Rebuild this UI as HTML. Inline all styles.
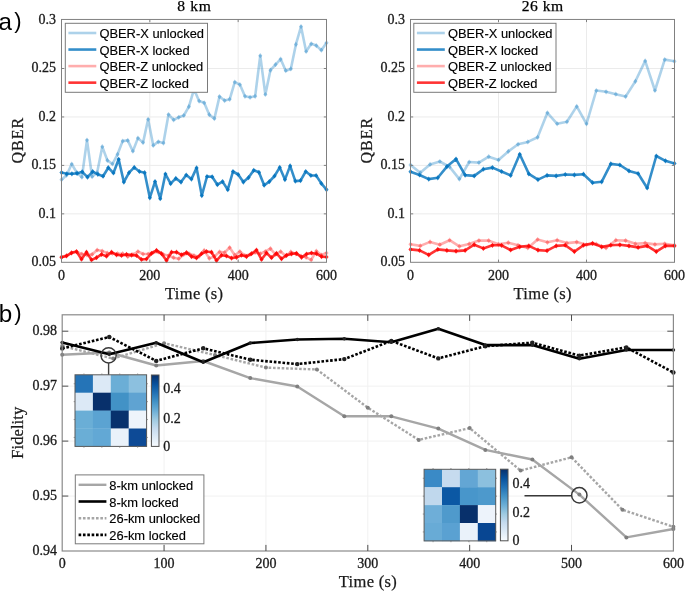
<!DOCTYPE html><html><head><meta charset="utf-8"><style>html,body{margin:0;padding:0;background:#fff;width:685px;height:591px;overflow:hidden}svg{display:block;will-change:transform}</style></head><body>
<svg width="685" height="591" viewBox="0 0 685 591">
<rect width="685" height="591" fill="#fff"/>
<path d="M61.5 213.85H326.5M61.5 165.40H326.5M61.5 116.95H326.5M61.5 68.50H326.5M149.83 19.4V262.3M238.17 19.4V262.3" stroke="#ebebeb" stroke-width="1" fill="none"/>
<polyline points="61.50,257.00 66.60,255.50 71.69,253.00 76.79,252.00 81.88,254.00 86.98,255.00 92.08,254.40 97.17,250.00 102.27,251.10 107.37,253.00 112.46,253.30 117.56,253.70 122.65,253.70 127.75,256.60 132.85,254.50 137.94,251.50 143.04,254.00 148.13,254.00 153.23,252.50 158.33,252.00 163.42,254.50 168.52,255.50 173.62,257.70 178.71,258.80 183.81,254.50 188.90,253.50 194.00,255.50 199.10,256.50 204.19,250.40 209.29,258.40 214.38,256.50 219.48,251.90 224.58,252.60 229.67,247.50 234.77,255.20 239.87,251.50 244.96,255.50 250.06,254.50 255.15,252.50 260.25,253.70 265.35,251.50 270.44,248.60 275.54,254.50 280.63,251.50 285.73,256.00 290.83,251.90 295.92,254.00 301.02,256.00 306.12,257.30 311.21,259.90 316.31,251.10 321.40,255.00 326.50,253.00" fill="none" stroke="#ff0000" stroke-opacity="0.32" stroke-width="2.6" stroke-linejoin="round"/>
<path d="M61.50 254.40L63.58 257.00L61.50 259.60L59.42 257.00ZM66.60 252.90L68.68 255.50L66.60 258.10L64.52 255.50ZM71.69 250.40L73.77 253.00L71.69 255.60L69.61 253.00ZM76.79 249.40L78.87 252.00L76.79 254.60L74.71 252.00ZM81.88 251.40L83.96 254.00L81.88 256.60L79.80 254.00ZM86.98 252.40L89.06 255.00L86.98 257.60L84.90 255.00ZM92.08 251.80L94.16 254.40L92.08 257.00L90.00 254.40ZM97.17 247.40L99.25 250.00L97.17 252.60L95.09 250.00ZM102.27 248.50L104.35 251.10L102.27 253.70L100.19 251.10ZM107.37 250.40L109.45 253.00L107.37 255.60L105.29 253.00ZM112.46 250.70L114.54 253.30L112.46 255.90L110.38 253.30ZM117.56 251.10L119.64 253.70L117.56 256.30L115.48 253.70ZM122.65 251.10L124.73 253.70L122.65 256.30L120.57 253.70ZM127.75 254.00L129.83 256.60L127.75 259.20L125.67 256.60ZM132.85 251.90L134.93 254.50L132.85 257.10L130.77 254.50ZM137.94 248.90L140.02 251.50L137.94 254.10L135.86 251.50ZM143.04 251.40L145.12 254.00L143.04 256.60L140.96 254.00ZM148.13 251.40L150.21 254.00L148.13 256.60L146.05 254.00ZM153.23 249.90L155.31 252.50L153.23 255.10L151.15 252.50ZM158.33 249.40L160.41 252.00L158.33 254.60L156.25 252.00ZM163.42 251.90L165.50 254.50L163.42 257.10L161.34 254.50ZM168.52 252.90L170.60 255.50L168.52 258.10L166.44 255.50ZM173.62 255.10L175.70 257.70L173.62 260.30L171.54 257.70ZM178.71 256.20L180.79 258.80L178.71 261.40L176.63 258.80ZM183.81 251.90L185.89 254.50L183.81 257.10L181.73 254.50ZM188.90 250.90L190.98 253.50L188.90 256.10L186.82 253.50ZM194.00 252.90L196.08 255.50L194.00 258.10L191.92 255.50ZM199.10 253.90L201.18 256.50L199.10 259.10L197.02 256.50ZM204.19 247.80L206.27 250.40L204.19 253.00L202.11 250.40ZM209.29 255.80L211.37 258.40L209.29 261.00L207.21 258.40ZM214.38 253.90L216.46 256.50L214.38 259.10L212.30 256.50ZM219.48 249.30L221.56 251.90L219.48 254.50L217.40 251.90ZM224.58 250.00L226.66 252.60L224.58 255.20L222.50 252.60ZM229.67 244.90L231.75 247.50L229.67 250.10L227.59 247.50ZM234.77 252.60L236.85 255.20L234.77 257.80L232.69 255.20ZM239.87 248.90L241.95 251.50L239.87 254.10L237.79 251.50ZM244.96 252.90L247.04 255.50L244.96 258.10L242.88 255.50ZM250.06 251.90L252.14 254.50L250.06 257.10L247.98 254.50ZM255.15 249.90L257.23 252.50L255.15 255.10L253.07 252.50ZM260.25 251.10L262.33 253.70L260.25 256.30L258.17 253.70ZM265.35 248.90L267.43 251.50L265.35 254.10L263.27 251.50ZM270.44 246.00L272.52 248.60L270.44 251.20L268.36 248.60ZM275.54 251.90L277.62 254.50L275.54 257.10L273.46 254.50ZM280.63 248.90L282.71 251.50L280.63 254.10L278.55 251.50ZM285.73 253.40L287.81 256.00L285.73 258.60L283.65 256.00ZM290.83 249.30L292.91 251.90L290.83 254.50L288.75 251.90ZM295.92 251.40L298.00 254.00L295.92 256.60L293.84 254.00ZM301.02 253.40L303.10 256.00L301.02 258.60L298.94 256.00ZM306.12 254.70L308.20 257.30L306.12 259.90L304.04 257.30ZM311.21 257.30L313.29 259.90L311.21 262.50L309.13 259.90ZM316.31 248.50L318.39 251.10L316.31 253.70L314.23 251.10ZM321.40 252.40L323.48 255.00L321.40 257.60L319.32 255.00ZM326.50 250.40L328.58 253.00L326.50 255.60L324.42 253.00Z" fill="#ff0000" fill-opacity="0.32"/>
<polyline points="61.50,257.30 66.50,256.00 71.50,252.80 76.50,251.50 81.50,259.20 86.50,252.20 91.50,259.90 96.50,257.70 101.50,254.40 106.50,256.20 111.50,252.20 116.50,254.80 121.50,255.50 126.50,254.40 131.50,255.10 136.50,255.50 141.50,259.50 146.50,259.00 151.50,253.40 156.50,250.40 161.50,253.70 166.50,260.60 171.50,252.20 176.50,252.20 181.50,254.80 186.50,252.60 191.50,256.60 196.50,258.00 201.50,253.70 206.50,251.50 211.50,252.20 216.50,260.60 221.50,255.20 226.50,255.90 231.50,258.10 236.50,257.30 241.50,255.20 246.50,256.60 251.50,253.70 256.50,250.00 261.50,259.50 266.50,253.00 271.50,257.70 276.50,253.30 281.50,258.80 286.50,255.30 291.50,253.90 296.50,253.30 301.50,257.30 306.50,254.10 311.50,253.00 316.50,253.70 321.50,256.60 326.50,257.00" fill="none" stroke="#ff0000" stroke-opacity="0.8" stroke-width="2.6" stroke-linejoin="round"/>
<path d="M61.50 254.70L63.58 257.30L61.50 259.90L59.42 257.30ZM66.50 253.40L68.58 256.00L66.50 258.60L64.42 256.00ZM71.50 250.20L73.58 252.80L71.50 255.40L69.42 252.80ZM76.50 248.90L78.58 251.50L76.50 254.10L74.42 251.50ZM81.50 256.60L83.58 259.20L81.50 261.80L79.42 259.20ZM86.50 249.60L88.58 252.20L86.50 254.80L84.42 252.20ZM91.50 257.30L93.58 259.90L91.50 262.50L89.42 259.90ZM96.50 255.10L98.58 257.70L96.50 260.30L94.42 257.70ZM101.50 251.80L103.58 254.40L101.50 257.00L99.42 254.40ZM106.50 253.60L108.58 256.20L106.50 258.80L104.42 256.20ZM111.50 249.60L113.58 252.20L111.50 254.80L109.42 252.20ZM116.50 252.20L118.58 254.80L116.50 257.40L114.42 254.80ZM121.50 252.90L123.58 255.50L121.50 258.10L119.42 255.50ZM126.50 251.80L128.58 254.40L126.50 257.00L124.42 254.40ZM131.50 252.50L133.58 255.10L131.50 257.70L129.42 255.10ZM136.50 252.90L138.58 255.50L136.50 258.10L134.42 255.50ZM141.50 256.90L143.58 259.50L141.50 262.10L139.42 259.50ZM146.50 256.40L148.58 259.00L146.50 261.60L144.42 259.00ZM151.50 250.80L153.58 253.40L151.50 256.00L149.42 253.40ZM156.50 247.80L158.58 250.40L156.50 253.00L154.42 250.40ZM161.50 251.10L163.58 253.70L161.50 256.30L159.42 253.70ZM166.50 258.00L168.58 260.60L166.50 263.20L164.42 260.60ZM171.50 249.60L173.58 252.20L171.50 254.80L169.42 252.20ZM176.50 249.60L178.58 252.20L176.50 254.80L174.42 252.20ZM181.50 252.20L183.58 254.80L181.50 257.40L179.42 254.80ZM186.50 250.00L188.58 252.60L186.50 255.20L184.42 252.60ZM191.50 254.00L193.58 256.60L191.50 259.20L189.42 256.60ZM196.50 255.40L198.58 258.00L196.50 260.60L194.42 258.00ZM201.50 251.10L203.58 253.70L201.50 256.30L199.42 253.70ZM206.50 248.90L208.58 251.50L206.50 254.10L204.42 251.50ZM211.50 249.60L213.58 252.20L211.50 254.80L209.42 252.20ZM216.50 258.00L218.58 260.60L216.50 263.20L214.42 260.60ZM221.50 252.60L223.58 255.20L221.50 257.80L219.42 255.20ZM226.50 253.30L228.58 255.90L226.50 258.50L224.42 255.90ZM231.50 255.50L233.58 258.10L231.50 260.70L229.42 258.10ZM236.50 254.70L238.58 257.30L236.50 259.90L234.42 257.30ZM241.50 252.60L243.58 255.20L241.50 257.80L239.42 255.20ZM246.50 254.00L248.58 256.60L246.50 259.20L244.42 256.60ZM251.50 251.10L253.58 253.70L251.50 256.30L249.42 253.70ZM256.50 247.40L258.58 250.00L256.50 252.60L254.42 250.00ZM261.50 256.90L263.58 259.50L261.50 262.10L259.42 259.50ZM266.50 250.40L268.58 253.00L266.50 255.60L264.42 253.00ZM271.50 255.10L273.58 257.70L271.50 260.30L269.42 257.70ZM276.50 250.70L278.58 253.30L276.50 255.90L274.42 253.30ZM281.50 256.20L283.58 258.80L281.50 261.40L279.42 258.80ZM286.50 252.70L288.58 255.30L286.50 257.90L284.42 255.30ZM291.50 251.30L293.58 253.90L291.50 256.50L289.42 253.90ZM296.50 250.70L298.58 253.30L296.50 255.90L294.42 253.30ZM301.50 254.70L303.58 257.30L301.50 259.90L299.42 257.30ZM306.50 251.50L308.58 254.10L306.50 256.70L304.42 254.10ZM311.50 250.40L313.58 253.00L311.50 255.60L309.42 253.00ZM316.50 251.10L318.58 253.70L316.50 256.30L314.42 253.70ZM321.50 254.00L323.58 256.60L321.50 259.20L319.42 256.60ZM326.50 254.40L328.58 257.00L326.50 259.60L324.42 257.00Z" fill="#ff0000" fill-opacity="0.8"/>
<polyline points="61.50,179.70 66.60,175.20 71.69,164.00 76.79,172.60 81.88,177.20 86.98,140.10 92.08,176.70 97.17,172.60 102.27,146.70 107.37,160.40 112.46,164.00 117.56,154.30 122.65,141.10 127.75,140.40 132.85,151.20 137.94,138.10 143.04,142.60 148.13,119.30 153.23,145.40 158.33,141.80 163.42,143.10 168.52,114.50 173.62,119.90 178.71,117.30 183.81,115.50 188.90,106.70 194.00,89.30 199.10,101.10 204.19,102.80 209.29,114.70 214.38,118.60 219.48,96.60 224.58,100.60 229.67,99.30 234.77,82.10 239.87,84.60 244.96,96.30 250.06,97.30 255.15,96.30 260.25,55.70 265.35,94.50 270.44,70.20 275.54,64.60 280.63,59.10 285.73,70.70 290.83,68.90 295.92,44.40 301.02,26.60 306.12,51.50 311.21,43.80 316.31,45.60 321.40,50.20 326.50,42.80" fill="none" stroke="#0072bd" stroke-opacity="0.32" stroke-width="2.6" stroke-linejoin="round"/>
<path d="M61.50 177.10L63.58 179.70L61.50 182.30L59.42 179.70ZM66.60 172.60L68.68 175.20L66.60 177.80L64.52 175.20ZM71.69 161.40L73.77 164.00L71.69 166.60L69.61 164.00ZM76.79 170.00L78.87 172.60L76.79 175.20L74.71 172.60ZM81.88 174.60L83.96 177.20L81.88 179.80L79.80 177.20ZM86.98 137.50L89.06 140.10L86.98 142.70L84.90 140.10ZM92.08 174.10L94.16 176.70L92.08 179.30L90.00 176.70ZM97.17 170.00L99.25 172.60L97.17 175.20L95.09 172.60ZM102.27 144.10L104.35 146.70L102.27 149.30L100.19 146.70ZM107.37 157.80L109.45 160.40L107.37 163.00L105.29 160.40ZM112.46 161.40L114.54 164.00L112.46 166.60L110.38 164.00ZM117.56 151.70L119.64 154.30L117.56 156.90L115.48 154.30ZM122.65 138.50L124.73 141.10L122.65 143.70L120.57 141.10ZM127.75 137.80L129.83 140.40L127.75 143.00L125.67 140.40ZM132.85 148.60L134.93 151.20L132.85 153.80L130.77 151.20ZM137.94 135.50L140.02 138.10L137.94 140.70L135.86 138.10ZM143.04 140.00L145.12 142.60L143.04 145.20L140.96 142.60ZM148.13 116.70L150.21 119.30L148.13 121.90L146.05 119.30ZM153.23 142.80L155.31 145.40L153.23 148.00L151.15 145.40ZM158.33 139.20L160.41 141.80L158.33 144.40L156.25 141.80ZM163.42 140.50L165.50 143.10L163.42 145.70L161.34 143.10ZM168.52 111.90L170.60 114.50L168.52 117.10L166.44 114.50ZM173.62 117.30L175.70 119.90L173.62 122.50L171.54 119.90ZM178.71 114.70L180.79 117.30L178.71 119.90L176.63 117.30ZM183.81 112.90L185.89 115.50L183.81 118.10L181.73 115.50ZM188.90 104.10L190.98 106.70L188.90 109.30L186.82 106.70ZM194.00 86.70L196.08 89.30L194.00 91.90L191.92 89.30ZM199.10 98.50L201.18 101.10L199.10 103.70L197.02 101.10ZM204.19 100.20L206.27 102.80L204.19 105.40L202.11 102.80ZM209.29 112.10L211.37 114.70L209.29 117.30L207.21 114.70ZM214.38 116.00L216.46 118.60L214.38 121.20L212.30 118.60ZM219.48 94.00L221.56 96.60L219.48 99.20L217.40 96.60ZM224.58 98.00L226.66 100.60L224.58 103.20L222.50 100.60ZM229.67 96.70L231.75 99.30L229.67 101.90L227.59 99.30ZM234.77 79.50L236.85 82.10L234.77 84.70L232.69 82.10ZM239.87 82.00L241.95 84.60L239.87 87.20L237.79 84.60ZM244.96 93.70L247.04 96.30L244.96 98.90L242.88 96.30ZM250.06 94.70L252.14 97.30L250.06 99.90L247.98 97.30ZM255.15 93.70L257.23 96.30L255.15 98.90L253.07 96.30ZM260.25 53.10L262.33 55.70L260.25 58.30L258.17 55.70ZM265.35 91.90L267.43 94.50L265.35 97.10L263.27 94.50ZM270.44 67.60L272.52 70.20L270.44 72.80L268.36 70.20ZM275.54 62.00L277.62 64.60L275.54 67.20L273.46 64.60ZM280.63 56.50L282.71 59.10L280.63 61.70L278.55 59.10ZM285.73 68.10L287.81 70.70L285.73 73.30L283.65 70.70ZM290.83 66.30L292.91 68.90L290.83 71.50L288.75 68.90ZM295.92 41.80L298.00 44.40L295.92 47.00L293.84 44.40ZM301.02 24.00L303.10 26.60L301.02 29.20L298.94 26.60ZM306.12 48.90L308.20 51.50L306.12 54.10L304.04 51.50ZM311.21 41.20L313.29 43.80L311.21 46.40L309.13 43.80ZM316.31 43.00L318.39 45.60L316.31 48.20L314.23 45.60ZM321.40 47.60L323.48 50.20L321.40 52.80L319.32 50.20ZM326.50 40.20L328.58 42.80L326.50 45.40L324.42 42.80Z" fill="#0072bd" fill-opacity="0.32"/>
<polyline points="61.50,172.60 66.70,173.80 71.89,173.80 77.09,173.40 82.28,171.80 87.48,177.20 92.68,171.60 97.87,174.30 103.07,176.20 108.26,167.70 113.46,173.00 118.66,159.30 123.85,182.10 129.05,172.70 134.25,167.40 139.44,171.50 144.64,172.70 149.83,197.80 155.03,181.60 160.23,198.70 165.42,174.00 170.62,183.70 175.81,178.40 181.01,182.10 186.21,175.00 191.40,179.10 196.60,167.90 201.79,195.60 206.99,176.50 212.19,176.80 217.38,184.70 222.58,181.60 227.77,189.70 232.97,171.50 238.17,174.50 243.36,182.10 248.56,177.60 253.75,170.30 258.95,172.30 264.15,185.20 269.34,181.60 274.54,176.00 279.74,167.40 284.93,179.60 290.13,165.90 295.32,181.10 300.52,180.60 305.72,171.50 310.91,175.50 316.11,175.50 321.30,183.40 326.50,189.70" fill="none" stroke="#0072bd" stroke-opacity="0.8" stroke-width="2.6" stroke-linejoin="round"/>
<path d="M61.50 170.00L63.58 172.60L61.50 175.20L59.42 172.60ZM66.70 171.20L68.78 173.80L66.70 176.40L64.62 173.80ZM71.89 171.20L73.97 173.80L71.89 176.40L69.81 173.80ZM77.09 170.80L79.17 173.40L77.09 176.00L75.01 173.40ZM82.28 169.20L84.36 171.80L82.28 174.40L80.20 171.80ZM87.48 174.60L89.56 177.20L87.48 179.80L85.40 177.20ZM92.68 169.00L94.76 171.60L92.68 174.20L90.60 171.60ZM97.87 171.70L99.95 174.30L97.87 176.90L95.79 174.30ZM103.07 173.60L105.15 176.20L103.07 178.80L100.99 176.20ZM108.26 165.10L110.34 167.70L108.26 170.30L106.18 167.70ZM113.46 170.40L115.54 173.00L113.46 175.60L111.38 173.00ZM118.66 156.70L120.74 159.30L118.66 161.90L116.58 159.30ZM123.85 179.50L125.93 182.10L123.85 184.70L121.77 182.10ZM129.05 170.10L131.13 172.70L129.05 175.30L126.97 172.70ZM134.25 164.80L136.33 167.40L134.25 170.00L132.17 167.40ZM139.44 168.90L141.52 171.50L139.44 174.10L137.36 171.50ZM144.64 170.10L146.72 172.70L144.64 175.30L142.56 172.70ZM149.83 195.20L151.91 197.80L149.83 200.40L147.75 197.80ZM155.03 179.00L157.11 181.60L155.03 184.20L152.95 181.60ZM160.23 196.10L162.31 198.70L160.23 201.30L158.15 198.70ZM165.42 171.40L167.50 174.00L165.42 176.60L163.34 174.00ZM170.62 181.10L172.70 183.70L170.62 186.30L168.54 183.70ZM175.81 175.80L177.89 178.40L175.81 181.00L173.73 178.40ZM181.01 179.50L183.09 182.10L181.01 184.70L178.93 182.10ZM186.21 172.40L188.29 175.00L186.21 177.60L184.13 175.00ZM191.40 176.50L193.48 179.10L191.40 181.70L189.32 179.10ZM196.60 165.30L198.68 167.90L196.60 170.50L194.52 167.90ZM201.79 193.00L203.87 195.60L201.79 198.20L199.71 195.60ZM206.99 173.90L209.07 176.50L206.99 179.10L204.91 176.50ZM212.19 174.20L214.27 176.80L212.19 179.40L210.11 176.80ZM217.38 182.10L219.46 184.70L217.38 187.30L215.30 184.70ZM222.58 179.00L224.66 181.60L222.58 184.20L220.50 181.60ZM227.77 187.10L229.85 189.70L227.77 192.30L225.69 189.70ZM232.97 168.90L235.05 171.50L232.97 174.10L230.89 171.50ZM238.17 171.90L240.25 174.50L238.17 177.10L236.09 174.50ZM243.36 179.50L245.44 182.10L243.36 184.70L241.28 182.10ZM248.56 175.00L250.64 177.60L248.56 180.20L246.48 177.60ZM253.75 167.70L255.83 170.30L253.75 172.90L251.67 170.30ZM258.95 169.70L261.03 172.30L258.95 174.90L256.87 172.30ZM264.15 182.60L266.23 185.20L264.15 187.80L262.07 185.20ZM269.34 179.00L271.42 181.60L269.34 184.20L267.26 181.60ZM274.54 173.40L276.62 176.00L274.54 178.60L272.46 176.00ZM279.74 164.80L281.82 167.40L279.74 170.00L277.66 167.40ZM284.93 177.00L287.01 179.60L284.93 182.20L282.85 179.60ZM290.13 163.30L292.21 165.90L290.13 168.50L288.05 165.90ZM295.32 178.50L297.40 181.10L295.32 183.70L293.24 181.10ZM300.52 178.00L302.60 180.60L300.52 183.20L298.44 180.60ZM305.72 168.90L307.80 171.50L305.72 174.10L303.64 171.50ZM310.91 172.90L312.99 175.50L310.91 178.10L308.83 175.50ZM316.11 172.90L318.19 175.50L316.11 178.10L314.03 175.50ZM321.30 180.80L323.38 183.40L321.30 186.00L319.22 183.40ZM326.50 187.10L328.58 189.70L326.50 192.30L324.42 189.70Z" fill="#0072bd" fill-opacity="0.8"/>
<rect x="61.50" y="19.45" width="265.00" height="242.85" fill="none" stroke="#808080" stroke-width="1"/>
<path d="M61.5 213.85h2.7M326.5 213.85h-2.7M61.5 165.40h2.7M326.5 165.40h-2.7M61.5 116.95h2.7M326.5 116.95h-2.7M61.5 68.50h2.7M326.5 68.50h-2.7M149.83 262.3v-2.7M149.83 19.4v2.7M238.17 262.3v-2.7M238.17 19.4v2.7" stroke="#808080" stroke-width="1" fill="none"/>
<text x="55.9" y="266.1" text-anchor="end" font-family='"Liberation Serif", serif' font-size="14" fill="#1a1a1a" stroke="#1a1a1a" stroke-width="0.3">0.05</text>
<text x="55.9" y="217.7" text-anchor="end" font-family='"Liberation Serif", serif' font-size="14" fill="#1a1a1a" stroke="#1a1a1a" stroke-width="0.3">0.1</text>
<text x="55.9" y="169.2" text-anchor="end" font-family='"Liberation Serif", serif' font-size="14" fill="#1a1a1a" stroke="#1a1a1a" stroke-width="0.3">0.15</text>
<text x="55.9" y="120.7" text-anchor="end" font-family='"Liberation Serif", serif' font-size="14" fill="#1a1a1a" stroke="#1a1a1a" stroke-width="0.3">0.2</text>
<text x="55.9" y="72.3" text-anchor="end" font-family='"Liberation Serif", serif' font-size="14" fill="#1a1a1a" stroke="#1a1a1a" stroke-width="0.3">0.25</text>
<text x="55.9" y="23.9" text-anchor="end" font-family='"Liberation Serif", serif' font-size="14" fill="#1a1a1a" stroke="#1a1a1a" stroke-width="0.3">0.3</text>
<text x="61.50" y="280" text-anchor="middle" font-family='"Liberation Serif", serif' font-size="14" fill="#1a1a1a" stroke="#1a1a1a" stroke-width="0.3">0</text>
<text x="149.83" y="280" text-anchor="middle" font-family='"Liberation Serif", serif' font-size="14" fill="#1a1a1a" stroke="#1a1a1a" stroke-width="0.3">200</text>
<text x="238.17" y="280" text-anchor="middle" font-family='"Liberation Serif", serif' font-size="14" fill="#1a1a1a" stroke="#1a1a1a" stroke-width="0.3">400</text>
<text x="326.50" y="280" text-anchor="middle" font-family='"Liberation Serif", serif' font-size="14" fill="#1a1a1a" stroke="#1a1a1a" stroke-width="0.3">600</text>
<text x="194.00" y="298.5" text-anchor="middle" font-family='"Liberation Serif", serif' font-size="16.5" textLength="58" lengthAdjust="spacing" fill="#1a1a1a" stroke="#1a1a1a" stroke-width="0.25">Time (s)</text>
<text x="194.00" y="11.1" text-anchor="middle" font-family='"Liberation Serif", serif' font-size="15.6" textLength="33.7" lengthAdjust="spacing" fill="#000" stroke="#000" stroke-width="0.25">8 km</text>
<text transform="translate(22.80 140.6) rotate(-90)" text-anchor="middle" font-family='"Liberation Serif", serif' font-size="16" textLength="45.7" lengthAdjust="spacing" fill="#1a1a1a" stroke="#1a1a1a" stroke-width="0.25">QBER</text>
<rect x="65.30" y="23.30" width="142.2" height="69.0" fill="#fff" stroke="#7a7a7a" stroke-width="1"/>
<path d="M68.40 33.00H96.30" stroke="#0072bd" stroke-opacity="0.32" stroke-width="2.6"/>
<text x="99.40" y="38.20" font-family='"Liberation Sans", sans-serif' font-size="12.9" fill="#000" stroke="#000" stroke-width="0.15">QBER-X unlocked</text>
<path d="M68.40 49.55H96.30" stroke="#0072bd" stroke-opacity="0.8" stroke-width="2.6"/>
<text x="99.40" y="54.75" font-family='"Liberation Sans", sans-serif' font-size="12.9" fill="#000" stroke="#000" stroke-width="0.15">QBER-X locked</text>
<path d="M68.40 66.10H96.30" stroke="#ff0000" stroke-opacity="0.32" stroke-width="2.6"/>
<text x="99.40" y="71.30" font-family='"Liberation Sans", sans-serif' font-size="12.9" fill="#000" stroke="#000" stroke-width="0.15">QBER-Z unlocked</text>
<path d="M68.40 82.65H96.30" stroke="#ff0000" stroke-opacity="0.8" stroke-width="2.6"/>
<text x="99.40" y="87.85" font-family='"Liberation Sans", sans-serif' font-size="12.9" fill="#000" stroke="#000" stroke-width="0.15">QBER-Z locked</text>
<path d="M410.5 213.85H674.5M410.5 165.40H674.5M410.5 116.95H674.5M410.5 68.50H674.5M498.50 19.4V262.3M586.50 19.4V262.3" stroke="#ebebeb" stroke-width="1" fill="none"/>
<polyline points="410.50,244.30 420.28,245.90 430.06,241.90 439.83,244.70 449.61,240.20 459.39,246.30 469.17,243.90 478.94,240.60 488.72,240.60 498.50,244.30 508.28,242.70 518.06,245.30 527.83,248.00 537.61,239.50 547.39,242.30 557.17,240.20 566.94,243.10 576.72,242.10 586.50,244.80 596.28,244.00 606.06,248.00 615.83,240.20 625.61,240.60 635.39,243.80 645.17,243.10 654.94,244.40 664.72,243.80 674.50,245.20" fill="none" stroke="#ff0000" stroke-opacity="0.32" stroke-width="2.6" stroke-linejoin="round"/>
<path d="M410.50 241.70L412.58 244.30L410.50 246.90L408.42 244.30ZM420.28 243.30L422.36 245.90L420.28 248.50L418.20 245.90ZM430.06 239.30L432.14 241.90L430.06 244.50L427.98 241.90ZM439.83 242.10L441.91 244.70L439.83 247.30L437.75 244.70ZM449.61 237.60L451.69 240.20L449.61 242.80L447.53 240.20ZM459.39 243.70L461.47 246.30L459.39 248.90L457.31 246.30ZM469.17 241.30L471.25 243.90L469.17 246.50L467.09 243.90ZM478.94 238.00L481.02 240.60L478.94 243.20L476.86 240.60ZM488.72 238.00L490.80 240.60L488.72 243.20L486.64 240.60ZM498.50 241.70L500.58 244.30L498.50 246.90L496.42 244.30ZM508.28 240.10L510.36 242.70L508.28 245.30L506.20 242.70ZM518.06 242.70L520.14 245.30L518.06 247.90L515.98 245.30ZM527.83 245.40L529.91 248.00L527.83 250.60L525.75 248.00ZM537.61 236.90L539.69 239.50L537.61 242.10L535.53 239.50ZM547.39 239.70L549.47 242.30L547.39 244.90L545.31 242.30ZM557.17 237.60L559.25 240.20L557.17 242.80L555.09 240.20ZM566.94 240.50L569.02 243.10L566.94 245.70L564.86 243.10ZM576.72 239.50L578.80 242.10L576.72 244.70L574.64 242.10ZM586.50 242.20L588.58 244.80L586.50 247.40L584.42 244.80ZM596.28 241.40L598.36 244.00L596.28 246.60L594.20 244.00ZM606.06 245.40L608.14 248.00L606.06 250.60L603.98 248.00ZM615.83 237.60L617.91 240.20L615.83 242.80L613.75 240.20ZM625.61 238.00L627.69 240.60L625.61 243.20L623.53 240.60ZM635.39 241.20L637.47 243.80L635.39 246.40L633.31 243.80ZM645.17 240.50L647.25 243.10L645.17 245.70L643.09 243.10ZM654.94 241.80L657.02 244.40L654.94 247.00L652.86 244.40ZM664.72 241.20L666.80 243.80L664.72 246.40L662.64 243.80ZM674.50 242.60L676.58 245.20L674.50 247.80L672.42 245.20Z" fill="#ff0000" fill-opacity="0.32"/>
<polyline points="410.50,249.40 419.60,250.40 428.71,254.90 437.81,249.40 446.91,250.40 456.02,251.10 465.12,250.40 474.22,244.70 483.33,248.40 492.43,245.30 501.53,245.30 510.64,250.00 519.74,246.80 528.84,245.90 537.95,250.10 547.05,250.70 556.16,245.90 565.26,245.20 574.36,251.60 583.47,245.20 592.57,243.30 601.67,246.90 610.78,245.20 619.88,244.80 628.98,245.90 638.09,247.40 647.19,245.90 656.29,251.60 665.40,245.90 674.50,245.90" fill="none" stroke="#ff0000" stroke-opacity="0.8" stroke-width="2.6" stroke-linejoin="round"/>
<path d="M410.50 246.80L412.58 249.40L410.50 252.00L408.42 249.40ZM419.60 247.80L421.68 250.40L419.60 253.00L417.52 250.40ZM428.71 252.30L430.79 254.90L428.71 257.50L426.63 254.90ZM437.81 246.80L439.89 249.40L437.81 252.00L435.73 249.40ZM446.91 247.80L448.99 250.40L446.91 253.00L444.83 250.40ZM456.02 248.50L458.10 251.10L456.02 253.70L453.94 251.10ZM465.12 247.80L467.20 250.40L465.12 253.00L463.04 250.40ZM474.22 242.10L476.30 244.70L474.22 247.30L472.14 244.70ZM483.33 245.80L485.41 248.40L483.33 251.00L481.25 248.40ZM492.43 242.70L494.51 245.30L492.43 247.90L490.35 245.30ZM501.53 242.70L503.61 245.30L501.53 247.90L499.45 245.30ZM510.64 247.40L512.72 250.00L510.64 252.60L508.56 250.00ZM519.74 244.20L521.82 246.80L519.74 249.40L517.66 246.80ZM528.84 243.30L530.92 245.90L528.84 248.50L526.76 245.90ZM537.95 247.50L540.03 250.10L537.95 252.70L535.87 250.10ZM547.05 248.10L549.13 250.70L547.05 253.30L544.97 250.70ZM556.16 243.30L558.24 245.90L556.16 248.50L554.08 245.90ZM565.26 242.60L567.34 245.20L565.26 247.80L563.18 245.20ZM574.36 249.00L576.44 251.60L574.36 254.20L572.28 251.60ZM583.47 242.60L585.55 245.20L583.47 247.80L581.39 245.20ZM592.57 240.70L594.65 243.30L592.57 245.90L590.49 243.30ZM601.67 244.30L603.75 246.90L601.67 249.50L599.59 246.90ZM610.78 242.60L612.86 245.20L610.78 247.80L608.70 245.20ZM619.88 242.20L621.96 244.80L619.88 247.40L617.80 244.80ZM628.98 243.30L631.06 245.90L628.98 248.50L626.90 245.90ZM638.09 244.80L640.17 247.40L638.09 250.00L636.01 247.40ZM647.19 243.30L649.27 245.90L647.19 248.50L645.11 245.90ZM656.29 249.00L658.37 251.60L656.29 254.20L654.21 251.60ZM665.40 243.30L667.48 245.90L665.40 248.50L663.32 245.90ZM674.50 243.30L676.58 245.90L674.50 248.50L672.42 245.90Z" fill="#ff0000" fill-opacity="0.8"/>
<polyline points="410.50,164.90 420.28,172.70 430.06,164.40 439.83,161.50 449.61,166.90 459.39,179.10 469.17,162.00 478.94,162.60 488.72,156.70 498.50,160.00 508.28,151.40 518.06,144.30 527.83,141.90 537.61,137.30 547.39,112.80 557.17,123.80 566.94,121.80 576.72,106.40 586.50,123.80 596.28,90.50 606.06,91.80 615.83,94.20 625.61,96.60 635.39,81.30 645.17,60.90 654.94,90.50 664.72,59.60 674.50,61.30" fill="none" stroke="#0072bd" stroke-opacity="0.32" stroke-width="2.6" stroke-linejoin="round"/>
<path d="M410.50 162.30L412.58 164.90L410.50 167.50L408.42 164.90ZM420.28 170.10L422.36 172.70L420.28 175.30L418.20 172.70ZM430.06 161.80L432.14 164.40L430.06 167.00L427.98 164.40ZM439.83 158.90L441.91 161.50L439.83 164.10L437.75 161.50ZM449.61 164.30L451.69 166.90L449.61 169.50L447.53 166.90ZM459.39 176.50L461.47 179.10L459.39 181.70L457.31 179.10ZM469.17 159.40L471.25 162.00L469.17 164.60L467.09 162.00ZM478.94 160.00L481.02 162.60L478.94 165.20L476.86 162.60ZM488.72 154.10L490.80 156.70L488.72 159.30L486.64 156.70ZM498.50 157.40L500.58 160.00L498.50 162.60L496.42 160.00ZM508.28 148.80L510.36 151.40L508.28 154.00L506.20 151.40ZM518.06 141.70L520.14 144.30L518.06 146.90L515.98 144.30ZM527.83 139.30L529.91 141.90L527.83 144.50L525.75 141.90ZM537.61 134.70L539.69 137.30L537.61 139.90L535.53 137.30ZM547.39 110.20L549.47 112.80L547.39 115.40L545.31 112.80ZM557.17 121.20L559.25 123.80L557.17 126.40L555.09 123.80ZM566.94 119.20L569.02 121.80L566.94 124.40L564.86 121.80ZM576.72 103.80L578.80 106.40L576.72 109.00L574.64 106.40ZM586.50 121.20L588.58 123.80L586.50 126.40L584.42 123.80ZM596.28 87.90L598.36 90.50L596.28 93.10L594.20 90.50ZM606.06 89.20L608.14 91.80L606.06 94.40L603.98 91.80ZM615.83 91.60L617.91 94.20L615.83 96.80L613.75 94.20ZM625.61 94.00L627.69 96.60L625.61 99.20L623.53 96.60ZM635.39 78.70L637.47 81.30L635.39 83.90L633.31 81.30ZM645.17 58.30L647.25 60.90L645.17 63.50L643.09 60.90ZM654.94 87.90L657.02 90.50L654.94 93.10L652.86 90.50ZM664.72 57.00L666.80 59.60L664.72 62.20L662.64 59.60ZM674.50 58.70L676.58 61.30L674.50 63.90L672.42 61.30Z" fill="#0072bd" fill-opacity="0.32"/>
<polyline points="410.50,171.70 419.60,175.00 428.71,179.10 437.81,177.80 446.91,166.60 456.02,159.10 465.12,175.10 474.22,175.90 483.33,169.20 492.43,167.60 501.53,171.50 510.64,175.40 519.74,154.30 528.84,173.90 537.95,179.60 547.05,175.40 556.16,175.90 565.26,174.50 574.36,174.90 583.47,174.20 592.57,182.70 601.67,181.80 610.78,163.90 619.88,165.00 628.98,170.90 638.09,173.50 647.19,188.00 656.29,156.00 665.40,160.80 674.50,163.40" fill="none" stroke="#0072bd" stroke-opacity="0.8" stroke-width="2.6" stroke-linejoin="round"/>
<path d="M410.50 169.10L412.58 171.70L410.50 174.30L408.42 171.70ZM419.60 172.40L421.68 175.00L419.60 177.60L417.52 175.00ZM428.71 176.50L430.79 179.10L428.71 181.70L426.63 179.10ZM437.81 175.20L439.89 177.80L437.81 180.40L435.73 177.80ZM446.91 164.00L448.99 166.60L446.91 169.20L444.83 166.60ZM456.02 156.50L458.10 159.10L456.02 161.70L453.94 159.10ZM465.12 172.50L467.20 175.10L465.12 177.70L463.04 175.10ZM474.22 173.30L476.30 175.90L474.22 178.50L472.14 175.90ZM483.33 166.60L485.41 169.20L483.33 171.80L481.25 169.20ZM492.43 165.00L494.51 167.60L492.43 170.20L490.35 167.60ZM501.53 168.90L503.61 171.50L501.53 174.10L499.45 171.50ZM510.64 172.80L512.72 175.40L510.64 178.00L508.56 175.40ZM519.74 151.70L521.82 154.30L519.74 156.90L517.66 154.30ZM528.84 171.30L530.92 173.90L528.84 176.50L526.76 173.90ZM537.95 177.00L540.03 179.60L537.95 182.20L535.87 179.60ZM547.05 172.80L549.13 175.40L547.05 178.00L544.97 175.40ZM556.16 173.30L558.24 175.90L556.16 178.50L554.08 175.90ZM565.26 171.90L567.34 174.50L565.26 177.10L563.18 174.50ZM574.36 172.30L576.44 174.90L574.36 177.50L572.28 174.90ZM583.47 171.60L585.55 174.20L583.47 176.80L581.39 174.20ZM592.57 180.10L594.65 182.70L592.57 185.30L590.49 182.70ZM601.67 179.20L603.75 181.80L601.67 184.40L599.59 181.80ZM610.78 161.30L612.86 163.90L610.78 166.50L608.70 163.90ZM619.88 162.40L621.96 165.00L619.88 167.60L617.80 165.00ZM628.98 168.30L631.06 170.90L628.98 173.50L626.90 170.90ZM638.09 170.90L640.17 173.50L638.09 176.10L636.01 173.50ZM647.19 185.40L649.27 188.00L647.19 190.60L645.11 188.00ZM656.29 153.40L658.37 156.00L656.29 158.60L654.21 156.00ZM665.40 158.20L667.48 160.80L665.40 163.40L663.32 160.80ZM674.50 160.80L676.58 163.40L674.50 166.00L672.42 163.40Z" fill="#0072bd" fill-opacity="0.8"/>
<rect x="410.50" y="19.45" width="264.00" height="242.85" fill="none" stroke="#808080" stroke-width="1"/>
<path d="M410.5 213.85h2.7M674.5 213.85h-2.7M410.5 165.40h2.7M674.5 165.40h-2.7M410.5 116.95h2.7M674.5 116.95h-2.7M410.5 68.50h2.7M674.5 68.50h-2.7M498.50 262.3v-2.7M498.50 19.4v2.7M586.50 262.3v-2.7M586.50 19.4v2.7" stroke="#808080" stroke-width="1" fill="none"/>
<text x="404.9" y="266.1" text-anchor="end" font-family='"Liberation Serif", serif' font-size="14" fill="#1a1a1a" stroke="#1a1a1a" stroke-width="0.3">0.05</text>
<text x="404.9" y="217.7" text-anchor="end" font-family='"Liberation Serif", serif' font-size="14" fill="#1a1a1a" stroke="#1a1a1a" stroke-width="0.3">0.1</text>
<text x="404.9" y="169.2" text-anchor="end" font-family='"Liberation Serif", serif' font-size="14" fill="#1a1a1a" stroke="#1a1a1a" stroke-width="0.3">0.15</text>
<text x="404.9" y="120.7" text-anchor="end" font-family='"Liberation Serif", serif' font-size="14" fill="#1a1a1a" stroke="#1a1a1a" stroke-width="0.3">0.2</text>
<text x="404.9" y="72.3" text-anchor="end" font-family='"Liberation Serif", serif' font-size="14" fill="#1a1a1a" stroke="#1a1a1a" stroke-width="0.3">0.25</text>
<text x="404.9" y="23.9" text-anchor="end" font-family='"Liberation Serif", serif' font-size="14" fill="#1a1a1a" stroke="#1a1a1a" stroke-width="0.3">0.3</text>
<text x="410.50" y="280" text-anchor="middle" font-family='"Liberation Serif", serif' font-size="14" fill="#1a1a1a" stroke="#1a1a1a" stroke-width="0.3">0</text>
<text x="498.50" y="280" text-anchor="middle" font-family='"Liberation Serif", serif' font-size="14" fill="#1a1a1a" stroke="#1a1a1a" stroke-width="0.3">200</text>
<text x="586.50" y="280" text-anchor="middle" font-family='"Liberation Serif", serif' font-size="14" fill="#1a1a1a" stroke="#1a1a1a" stroke-width="0.3">400</text>
<text x="674.50" y="280" text-anchor="middle" font-family='"Liberation Serif", serif' font-size="14" fill="#1a1a1a" stroke="#1a1a1a" stroke-width="0.3">600</text>
<text x="542.50" y="298.5" text-anchor="middle" font-family='"Liberation Serif", serif' font-size="16.5" textLength="58" lengthAdjust="spacing" fill="#1a1a1a" stroke="#1a1a1a" stroke-width="0.25">Time (s)</text>
<text x="542.50" y="11.1" text-anchor="middle" font-family='"Liberation Serif", serif' font-size="15.6" textLength="41.4" lengthAdjust="spacing" fill="#000" stroke="#000" stroke-width="0.25">26 km</text>
<text transform="translate(371.80 140.6) rotate(-90)" text-anchor="middle" font-family='"Liberation Serif", serif' font-size="16" textLength="45.7" lengthAdjust="spacing" fill="#1a1a1a" stroke="#1a1a1a" stroke-width="0.25">QBER</text>
<rect x="413.80" y="23.30" width="142.2" height="69.0" fill="#fff" stroke="#7a7a7a" stroke-width="1"/>
<path d="M416.90 33.00H444.80" stroke="#0072bd" stroke-opacity="0.32" stroke-width="2.6"/>
<text x="447.90" y="38.20" font-family='"Liberation Sans", sans-serif' font-size="12.9" fill="#000" stroke="#000" stroke-width="0.15">QBER-X unlocked</text>
<path d="M416.90 49.55H444.80" stroke="#0072bd" stroke-opacity="0.8" stroke-width="2.6"/>
<text x="447.90" y="54.75" font-family='"Liberation Sans", sans-serif' font-size="12.9" fill="#000" stroke="#000" stroke-width="0.15">QBER-X locked</text>
<path d="M416.90 66.10H444.80" stroke="#ff0000" stroke-opacity="0.32" stroke-width="2.6"/>
<text x="447.90" y="71.30" font-family='"Liberation Sans", sans-serif' font-size="12.9" fill="#000" stroke="#000" stroke-width="0.15">QBER-Z unlocked</text>
<path d="M416.90 82.65H444.80" stroke="#ff0000" stroke-opacity="0.8" stroke-width="2.6"/>
<text x="447.90" y="87.85" font-family='"Liberation Sans", sans-serif' font-size="12.9" fill="#000" stroke="#000" stroke-width="0.15">QBER-Z locked</text>
<path d="M62.2 496.05H673.4M62.2 441.10H673.4M62.2 386.15H673.4M62.2 331.20H673.4M164.07 314.8V551.0M265.93 314.8V551.0M367.80 314.8V551.0M469.67 314.8V551.0M571.53 314.8V551.0" stroke="#f1f1f1" stroke-width="1" fill="none"/>
<polyline points="62.20,354.80 109.22,352.50 156.23,365.50 203.25,361.00 250.26,378.10 297.28,386.50 344.29,416.20 391.31,416.30 438.32,428.60 485.34,449.90 532.35,459.50 579.37,494.60 626.38,537.40 673.40,529.00" fill="none" stroke="#a6a6a6" stroke-width="2.4" stroke-linejoin="round"/>
<circle cx="62.20" cy="354.80" r="2.0" fill="#7f7f7f"/><circle cx="109.22" cy="352.50" r="2.0" fill="#7f7f7f"/><circle cx="156.23" cy="365.50" r="2.0" fill="#7f7f7f"/><circle cx="203.25" cy="361.00" r="2.0" fill="#7f7f7f"/><circle cx="250.26" cy="378.10" r="2.0" fill="#7f7f7f"/><circle cx="297.28" cy="386.50" r="2.0" fill="#7f7f7f"/><circle cx="344.29" cy="416.20" r="2.0" fill="#7f7f7f"/><circle cx="391.31" cy="416.30" r="2.0" fill="#7f7f7f"/><circle cx="438.32" cy="428.60" r="2.0" fill="#7f7f7f"/><circle cx="485.34" cy="449.90" r="2.0" fill="#7f7f7f"/><circle cx="532.35" cy="459.50" r="2.0" fill="#7f7f7f"/><circle cx="579.37" cy="494.60" r="2.0" fill="#7f7f7f"/><circle cx="626.38" cy="537.40" r="2.0" fill="#7f7f7f"/><circle cx="673.40" cy="529.00" r="2.0" fill="#7f7f7f"/>
<polyline points="62.20,346.00 113.13,358.60 164.07,343.20 215.00,355.00 265.93,367.60 316.87,369.50 367.80,407.70 418.73,439.90 469.67,428.10 520.60,470.60 571.53,457.30 622.47,509.80 673.40,526.80" fill="none" stroke="#a6a6a6" stroke-width="2.4" stroke-dasharray="2.6 1.75" stroke-linejoin="round"/>
<circle cx="62.20" cy="346.00" r="2.0" fill="#7f7f7f"/><circle cx="113.13" cy="358.60" r="2.0" fill="#7f7f7f"/><circle cx="164.07" cy="343.20" r="2.0" fill="#7f7f7f"/><circle cx="215.00" cy="355.00" r="2.0" fill="#7f7f7f"/><circle cx="265.93" cy="367.60" r="2.0" fill="#7f7f7f"/><circle cx="316.87" cy="369.50" r="2.0" fill="#7f7f7f"/><circle cx="367.80" cy="407.70" r="2.0" fill="#7f7f7f"/><circle cx="418.73" cy="439.90" r="2.0" fill="#7f7f7f"/><circle cx="469.67" cy="428.10" r="2.0" fill="#7f7f7f"/><circle cx="520.60" cy="470.60" r="2.0" fill="#7f7f7f"/><circle cx="571.53" cy="457.30" r="2.0" fill="#7f7f7f"/><circle cx="622.47" cy="509.80" r="2.0" fill="#7f7f7f"/><circle cx="673.40" cy="526.80" r="2.0" fill="#7f7f7f"/>
<polyline points="62.20,348.40 109.22,337.00 156.23,360.90 203.25,348.30 250.26,359.70 297.28,364.10 344.29,359.10 391.31,340.90 438.32,358.40 485.34,346.20 532.35,342.70 579.37,355.60 626.38,347.40 673.40,372.50" fill="none" stroke="#000" stroke-width="2.6" stroke-dasharray="2.6 1.75" stroke-linejoin="round"/>
<circle cx="62.20" cy="348.40" r="2.2" fill="#222"/><circle cx="109.22" cy="337.00" r="2.2" fill="#222"/><circle cx="156.23" cy="360.90" r="2.2" fill="#222"/><circle cx="203.25" cy="348.30" r="2.2" fill="#222"/><circle cx="250.26" cy="359.70" r="2.2" fill="#222"/><circle cx="297.28" cy="364.10" r="2.2" fill="#222"/><circle cx="344.29" cy="359.10" r="2.2" fill="#222"/><circle cx="391.31" cy="340.90" r="2.2" fill="#222"/><circle cx="438.32" cy="358.40" r="2.2" fill="#222"/><circle cx="485.34" cy="346.20" r="2.2" fill="#222"/><circle cx="532.35" cy="342.70" r="2.2" fill="#222"/><circle cx="579.37" cy="355.60" r="2.2" fill="#222"/><circle cx="626.38" cy="347.40" r="2.2" fill="#222"/><circle cx="673.40" cy="372.50" r="2.2" fill="#222"/>
<polyline points="62.20,342.60 109.22,354.30 156.23,342.70 203.25,362.30 250.26,343.00 297.28,339.50 344.29,338.70 391.31,342.20 438.32,328.70 485.34,345.10 532.35,345.10 579.37,358.80 626.38,350.00 673.40,350.00" fill="none" stroke="#000" stroke-width="2.6" stroke-linejoin="round"/>
<circle cx="62.20" cy="342.60" r="1.8" fill="#222"/><circle cx="109.22" cy="354.30" r="1.8" fill="#222"/><circle cx="156.23" cy="342.70" r="1.8" fill="#222"/><circle cx="203.25" cy="362.30" r="1.8" fill="#222"/><circle cx="250.26" cy="343.00" r="1.8" fill="#222"/><circle cx="297.28" cy="339.50" r="1.8" fill="#222"/><circle cx="344.29" cy="338.70" r="1.8" fill="#222"/><circle cx="391.31" cy="342.20" r="1.8" fill="#222"/><circle cx="438.32" cy="328.70" r="1.8" fill="#222"/><circle cx="485.34" cy="345.10" r="1.8" fill="#222"/><circle cx="532.35" cy="345.10" r="1.8" fill="#222"/><circle cx="579.37" cy="358.80" r="1.8" fill="#222"/><circle cx="626.38" cy="350.00" r="1.8" fill="#222"/><circle cx="673.40" cy="350.00" r="1.8" fill="#222"/>
<rect x="62.20" y="314.80" width="611.20" height="236.20" fill="none" stroke="#8a8a8a" stroke-width="1.2"/>
<path d="M62.2 496.05h6.1M673.4 496.05h-6.1M62.2 441.10h6.1M673.4 441.10h-6.1M62.2 386.15h6.1M673.4 386.15h-6.1M62.2 331.20h6.1M673.4 331.20h-6.1M164.07 551.0v-6.1M164.07 314.8v6.1M265.93 551.0v-6.1M265.93 314.8v6.1M367.80 551.0v-6.1M367.80 314.8v6.1M469.67 551.0v-6.1M469.67 314.8v6.1M571.53 551.0v-6.1M571.53 314.8v6.1" stroke="#4d4d4d" stroke-width="1" fill="none"/>
<text x="57.1" y="554.8" text-anchor="end" font-family='"Liberation Serif", serif' font-size="14" fill="#1a1a1a" stroke="#1a1a1a" stroke-width="0.3">0.94</text>
<text x="57.1" y="499.8" text-anchor="end" font-family='"Liberation Serif", serif' font-size="14" fill="#1a1a1a" stroke="#1a1a1a" stroke-width="0.3">0.95</text>
<text x="57.1" y="444.9" text-anchor="end" font-family='"Liberation Serif", serif' font-size="14" fill="#1a1a1a" stroke="#1a1a1a" stroke-width="0.3">0.96</text>
<text x="57.1" y="389.9" text-anchor="end" font-family='"Liberation Serif", serif' font-size="14" fill="#1a1a1a" stroke="#1a1a1a" stroke-width="0.3">0.97</text>
<text x="57.1" y="335.0" text-anchor="end" font-family='"Liberation Serif", serif' font-size="14" fill="#1a1a1a" stroke="#1a1a1a" stroke-width="0.3">0.98</text>
<text x="62.20" y="568" text-anchor="middle" font-family='"Liberation Serif", serif' font-size="14" fill="#1a1a1a" stroke="#1a1a1a" stroke-width="0.3">0</text>
<text x="164.07" y="568" text-anchor="middle" font-family='"Liberation Serif", serif' font-size="14" fill="#1a1a1a" stroke="#1a1a1a" stroke-width="0.3">100</text>
<text x="265.93" y="568" text-anchor="middle" font-family='"Liberation Serif", serif' font-size="14" fill="#1a1a1a" stroke="#1a1a1a" stroke-width="0.3">200</text>
<text x="367.80" y="568" text-anchor="middle" font-family='"Liberation Serif", serif' font-size="14" fill="#1a1a1a" stroke="#1a1a1a" stroke-width="0.3">300</text>
<text x="469.67" y="568" text-anchor="middle" font-family='"Liberation Serif", serif' font-size="14" fill="#1a1a1a" stroke="#1a1a1a" stroke-width="0.3">400</text>
<text x="571.53" y="568" text-anchor="middle" font-family='"Liberation Serif", serif' font-size="14" fill="#1a1a1a" stroke="#1a1a1a" stroke-width="0.3">500</text>
<text x="673.40" y="568" text-anchor="middle" font-family='"Liberation Serif", serif' font-size="14" fill="#1a1a1a" stroke="#1a1a1a" stroke-width="0.3">600</text>
<text x="367.80" y="587.4" text-anchor="middle" font-family='"Liberation Serif", serif' font-size="16.5" textLength="58" lengthAdjust="spacing" fill="#1a1a1a" stroke="#1a1a1a" stroke-width="0.25">Time (s)</text>
<text transform="translate(23.3 432.8) rotate(-90)" text-anchor="middle" font-family='"Liberation Serif", serif' font-size="16.5" textLength="52" lengthAdjust="spacing" fill="#1a1a1a" stroke="#1a1a1a" stroke-width="0.25">Fidelity</text>
<circle cx="108.6" cy="355.4" r="7.6" fill="none" stroke="#383838" stroke-width="1.4"/>
<path d="M108.6 363V375" stroke="#404040" stroke-width="1.4"/>
<circle cx="579.3" cy="495.3" r="7.7" fill="none" stroke="#383838" stroke-width="1.5"/>
<path d="M524.5 495.7H571.6" stroke="#383838" stroke-width="1.6"/>
<rect x="75.00" y="374.80" width="18.20" height="18.20" fill="#2574b7"/>
<rect x="92.90" y="374.80" width="18.20" height="18.20" fill="#dce9f6"/>
<rect x="110.80" y="374.80" width="18.20" height="18.20" fill="#6baed6"/>
<rect x="128.70" y="374.80" width="18.20" height="18.20" fill="#8cc0df"/>
<rect x="75.00" y="392.70" width="18.20" height="18.20" fill="#dce9f6"/>
<rect x="92.90" y="392.70" width="18.20" height="18.20" fill="#08306b"/>
<rect x="110.80" y="392.70" width="18.20" height="18.20" fill="#4292c6"/>
<rect x="128.70" y="392.70" width="18.20" height="18.20" fill="#5fa3d2"/>
<rect x="75.00" y="410.60" width="18.20" height="18.20" fill="#6aaed6"/>
<rect x="92.90" y="410.60" width="18.20" height="18.20" fill="#5ba3d2"/>
<rect x="110.80" y="410.60" width="18.20" height="18.20" fill="#08316d"/>
<rect x="128.70" y="410.60" width="18.20" height="18.20" fill="#eef4fb"/>
<rect x="75.00" y="428.50" width="18.20" height="18.20" fill="#6aaed6"/>
<rect x="92.90" y="428.50" width="18.20" height="18.20" fill="#62a8d5"/>
<rect x="110.80" y="428.50" width="18.20" height="18.20" fill="#eaf2fa"/>
<rect x="128.70" y="428.50" width="18.20" height="18.20" fill="#0d4a96"/>
<rect x="75.00" y="374.80" width="71.60" height="71.60" fill="none" stroke="#5a5a5a" stroke-width="1"/>
<path d="M83.95 374.80v-1.3M83.95 446.40v1.3M75.00 383.75h-1.3M146.60 383.75h1.3M101.85 374.80v-1.3M101.85 446.40v1.3M75.00 401.65h-1.3M146.60 401.65h1.3M119.75 374.80v-1.3M119.75 446.40v1.3M75.00 419.55h-1.3M146.60 419.55h1.3M137.65 374.80v-1.3M137.65 446.40v1.3M75.00 437.45h-1.3M146.60 437.45h1.3" stroke="#777" stroke-width="0.8"/>
<defs><linearGradient id="cb75" x1="0" y1="1" x2="0" y2="0"><stop offset="0" stop-color="#f7fbff"/><stop offset="0.125" stop-color="#deebf7"/><stop offset="0.25" stop-color="#c6dbef"/><stop offset="0.375" stop-color="#9ecae1"/><stop offset="0.5" stop-color="#6baed6"/><stop offset="0.625" stop-color="#4292c6"/><stop offset="0.75" stop-color="#2171b5"/><stop offset="0.875" stop-color="#08519c"/><stop offset="1" stop-color="#08306b"/></linearGradient></defs>
<rect x="151.40" y="375.00" width="7.6" height="71.40" fill="url(#cb75)" stroke="#505050" stroke-width="1"/>
<text x="163.20" y="450.60" font-family='"Liberation Serif", serif' font-size="14" fill="#1a1a1a" stroke="#1a1a1a" stroke-width="0.3">0</text>
<text x="163.20" y="422.50" font-family='"Liberation Serif", serif' font-size="14" fill="#1a1a1a" stroke="#1a1a1a" stroke-width="0.3">0.2</text>
<text x="163.20" y="393.20" font-family='"Liberation Serif", serif' font-size="14" fill="#1a1a1a" stroke="#1a1a1a" stroke-width="0.3">0.4</text>
<rect x="424.10" y="469.30" width="18.20" height="18.20" fill="#3a8ac6"/>
<rect x="442.00" y="469.30" width="18.20" height="18.20" fill="#c6dbef"/>
<rect x="459.90" y="469.30" width="18.20" height="18.20" fill="#63a6d4"/>
<rect x="477.80" y="469.30" width="18.20" height="18.20" fill="#8cc0de"/>
<rect x="424.10" y="487.20" width="18.20" height="18.20" fill="#c0d8ed"/>
<rect x="442.00" y="487.20" width="18.20" height="18.20" fill="#0b58a4"/>
<rect x="459.90" y="487.20" width="18.20" height="18.20" fill="#4896cb"/>
<rect x="477.80" y="487.20" width="18.20" height="18.20" fill="#4d99cc"/>
<rect x="424.10" y="505.10" width="18.20" height="18.20" fill="#6eaed8"/>
<rect x="442.00" y="505.10" width="18.20" height="18.20" fill="#4f9acc"/>
<rect x="459.90" y="505.10" width="18.20" height="18.20" fill="#08306b"/>
<rect x="477.80" y="505.10" width="18.20" height="18.20" fill="#edf3fb"/>
<rect x="424.10" y="523.00" width="18.20" height="18.20" fill="#68abd6"/>
<rect x="442.00" y="523.00" width="18.20" height="18.20" fill="#5aa1d2"/>
<rect x="459.90" y="523.00" width="18.20" height="18.20" fill="#eaf2fa"/>
<rect x="477.80" y="523.00" width="18.20" height="18.20" fill="#084692"/>
<rect x="424.10" y="469.30" width="71.60" height="71.60" fill="none" stroke="#5a5a5a" stroke-width="1"/>
<path d="M433.05 469.30v-1.3M433.05 540.90v1.3M424.10 478.25h-1.3M495.70 478.25h1.3M450.95 469.30v-1.3M450.95 540.90v1.3M424.10 496.15h-1.3M495.70 496.15h1.3M468.85 469.30v-1.3M468.85 540.90v1.3M424.10 514.05h-1.3M495.70 514.05h1.3M486.75 469.30v-1.3M486.75 540.90v1.3M424.10 531.95h-1.3M495.70 531.95h1.3" stroke="#777" stroke-width="0.8"/>
<defs><linearGradient id="cb424" x1="0" y1="1" x2="0" y2="0"><stop offset="0" stop-color="#f7fbff"/><stop offset="0.125" stop-color="#deebf7"/><stop offset="0.25" stop-color="#c6dbef"/><stop offset="0.375" stop-color="#9ecae1"/><stop offset="0.5" stop-color="#6baed6"/><stop offset="0.625" stop-color="#4292c6"/><stop offset="0.75" stop-color="#2171b5"/><stop offset="0.875" stop-color="#08519c"/><stop offset="1" stop-color="#08306b"/></linearGradient></defs>
<rect x="500.40" y="469.20" width="7.6" height="71.60" fill="url(#cb424)" stroke="#505050" stroke-width="1"/>
<text x="512.40" y="544.90" font-family='"Liberation Serif", serif' font-size="14" fill="#1a1a1a" stroke="#1a1a1a" stroke-width="0.3">0</text>
<text x="512.40" y="516.60" font-family='"Liberation Serif", serif' font-size="14" fill="#1a1a1a" stroke="#1a1a1a" stroke-width="0.3">0.2</text>
<text x="512.40" y="487.50" font-family='"Liberation Serif", serif' font-size="14" fill="#1a1a1a" stroke="#1a1a1a" stroke-width="0.3">0.4</text>
<rect x="75.30" y="474.90" width="128.6" height="68.9" fill="#fff" stroke="#7a7a7a" stroke-width="1"/>
<path d="M78.60 484.80H106.40" stroke="#a6a6a6" stroke-width="2.4"/>
<text x="109.30" y="490.00" font-family='"Liberation Sans", sans-serif' font-size="12.9" fill="#000" stroke="#000" stroke-width="0.15">8-km unlocked</text>
<path d="M78.60 501.50H106.40" stroke="#000" stroke-width="2.6"/>
<text x="109.30" y="506.70" font-family='"Liberation Sans", sans-serif' font-size="12.9" fill="#000" stroke="#000" stroke-width="0.15">8-km locked</text>
<path d="M78.60 518.20H106.40" stroke="#a6a6a6" stroke-width="2.4" stroke-dasharray="2.6 1.75"/>
<text x="109.30" y="523.40" font-family='"Liberation Sans", sans-serif' font-size="12.9" fill="#000" stroke="#000" stroke-width="0.15">26-km unlocked</text>
<path d="M78.60 534.90H106.40" stroke="#000" stroke-width="2.6" stroke-dasharray="2.6 1.75"/>
<text x="109.30" y="540.10" font-family='"Liberation Sans", sans-serif' font-size="12.9" fill="#000" stroke="#000" stroke-width="0.15">26-km locked</text>
<text x="-1.6" y="29.5" font-family='"Liberation Sans", sans-serif' font-size="24.2" fill="#000">a</text>
<text x="14.2" y="28.1" font-family='"Liberation Sans", sans-serif' font-size="22" fill="#000">)</text>
<text x="-1.2" y="321.5" font-family='"Liberation Sans", sans-serif' font-size="24.2" fill="#000">b</text>
<text x="14.2" y="320.0" font-family='"Liberation Sans", sans-serif' font-size="22" fill="#000">)</text>
</svg></body></html>
